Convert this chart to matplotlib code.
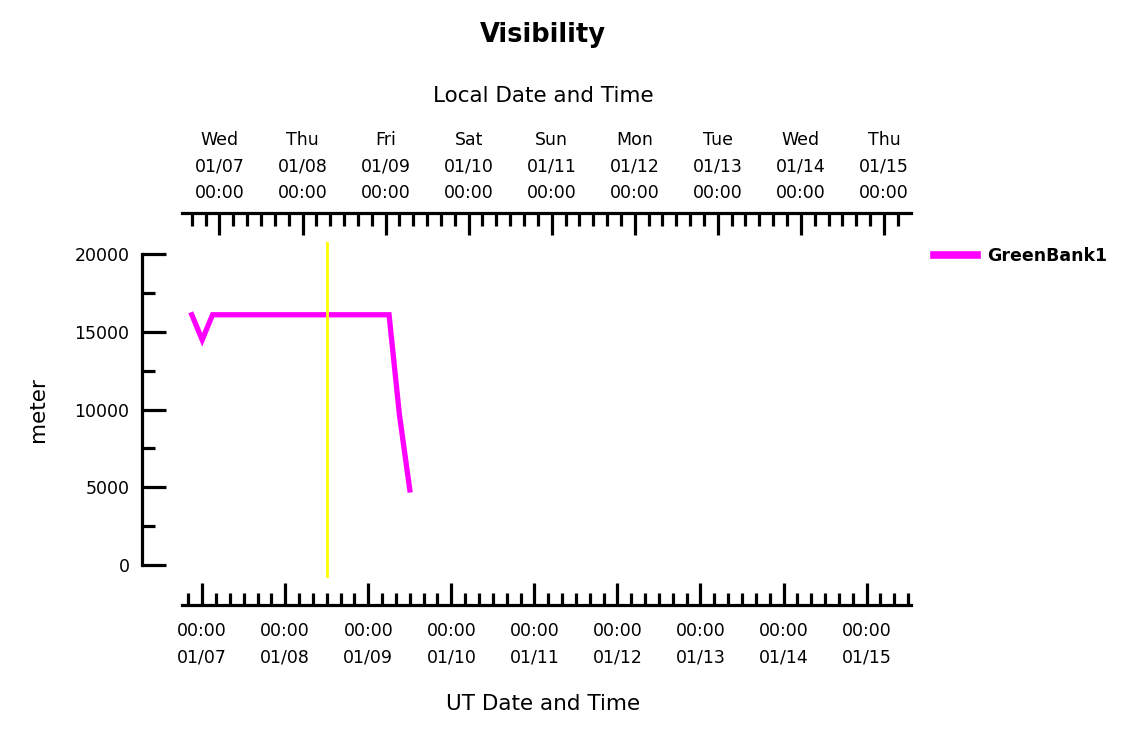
import numpy as np
import matplotlib
matplotlib.use("Agg")
import matplotlib.pyplot as plt
import matplotlib.dates as mdates

# visibility at GreenBank1 (UT)
obs_times = np.array(["2015-01-06T21:00", "2015-01-07T00:00", "2015-01-07T03:00",
                      "2015-01-09T06:00", "2015-01-09T09:00", "2015-01-09T12:00"],
                     dtype="datetime64[m]")
visibility = [16093, 14484, 16093, 16093, 9656, 4828]
series_name = "GreenBank1"

now_marker = np.datetime64("2015-01-08T12:00")
x_start = np.datetime64("2015-01-06T18:10")
x_end = np.datetime64("2015-01-15T12:50")
utc_offset_hours = -5

y_ticks = [0, 5000, 10000, 15000, 20000]
y_minor = [2500, 7500, 12500, 17500]
ut_days = np.arange(np.datetime64("2015-01-07"), np.datetime64("2015-01-16"),
                    np.timedelta64(1, "D")).astype("datetime64[m]")


def num(t):
    return mdates.date2num(t.astype("datetime64[us]").astype(object))


W, H = 1125, 731
fig = plt.figure(figsize=(W / 100, H / 100), dpi=100)
ax_l, ax_r, ax_t, ax_b = 182, 911, 242, 578
ax = fig.add_axes([ax_l / W, 1 - ax_b / H, (ax_r - ax_l) / W, (ax_b - ax_t) / H])

ax.plot(num(obs_times), visibility, color="#ff00ff", lw=3.8, label=series_name,
        solid_joinstyle="miter")
ax.axvline(num(np.array([now_marker]))[0], color="#ffff00", lw=2)

ax.set_xlim(num(np.array([x_start, x_end])))
ax.set_ylim(-836, 20772)

for s in ["right", "top"]:
    ax.spines[s].set_visible(False)
ax.spines["bottom"].set_position(("outward", 27 * 0.72))
ax.spines["left"].set_position(("outward", 40 * 0.72))
ax.spines["left"].set_bounds(0, 20000)
for s in ["bottom", "left"]:
    ax.spines[s].set_linewidth(2.3)

fs = 12.5
ax.set_yticks(y_ticks)
ax.set_yticks(y_minor, minor=True)
ax.tick_params(axis="y", which="major", direction="in", length=17, width=2.3,
               labelsize=fs, pad=9)
ax.tick_params(axis="y", which="minor", direction="in", length=9, width=2.3)

ax.set_xticks(num(ut_days))
ax.set_xticklabels([str(d)[11:16] + "\n" + str(d)[5:7] + "/" + str(d)[8:10]
                    for d in ut_days])
ax.xaxis.set_minor_locator(mdates.HourLocator(byhour=range(0, 24, 4)))
ax.tick_params(axis="x", which="major", direction="in", length=16, width=2.3,
               labelsize=fs, pad=12)
ax.tick_params(axis="x", which="minor", direction="in", length=9, width=2.3)
for lab in ax.get_xticklabels():
    lab.set_linespacing(1.6)

# local time axis on top
shift = utc_offset_hours / 24.0
sec = ax.secondary_xaxis(1 + 29 / (ax_b - ax_t),
                         functions=(lambda x: x + shift, lambda x: x - shift))
sec.spines["top"].set_linewidth(2.3)
sec.xaxis.set_major_locator(mdates.DayLocator())
sec.xaxis.set_major_formatter(mdates.DateFormatter("%a\n%m/%d\n%H:%M"))
sec.xaxis.set_minor_locator(mdates.HourLocator(byhour=range(0, 24, 4)))
sec.tick_params(axis="x", which="major", direction="in", length=16, width=2.3,
                labelsize=fs, pad=8)
sec.tick_params(axis="x", which="minor", direction="in", length=9, width=2.3)
fig.canvas.draw()
for lab in sec.get_xticklabels():
    lab.set_linespacing(1.6)

fig.text(543 / W, 1 - 35 / H, "Visibility", ha="center", va="center",
         fontsize=18.5, fontweight="bold")
fig.text(543 / W, 1 - 96 / H, "Local Date and Time", ha="center", va="center",
         fontsize=15.5)
fig.text(543 / W, 1 - 704 / H, "UT Date and Time", ha="center", va="center",
         fontsize=15.5)
fig.text(38 / W, 1 - 410 / H, "meter", ha="center", va="center", rotation=90,
         fontsize=15.5)

leg = fig.legend(loc="center left", bbox_to_anchor=(918 / W, 1 - 256 / H),
                 frameon=False, handlelength=2.5, handletextpad=0.6,
                 prop={"weight": "bold", "size": 12.5})
leg.get_lines()[0].set_linewidth(5.5)

fig.savefig("out.png", dpi=100)
